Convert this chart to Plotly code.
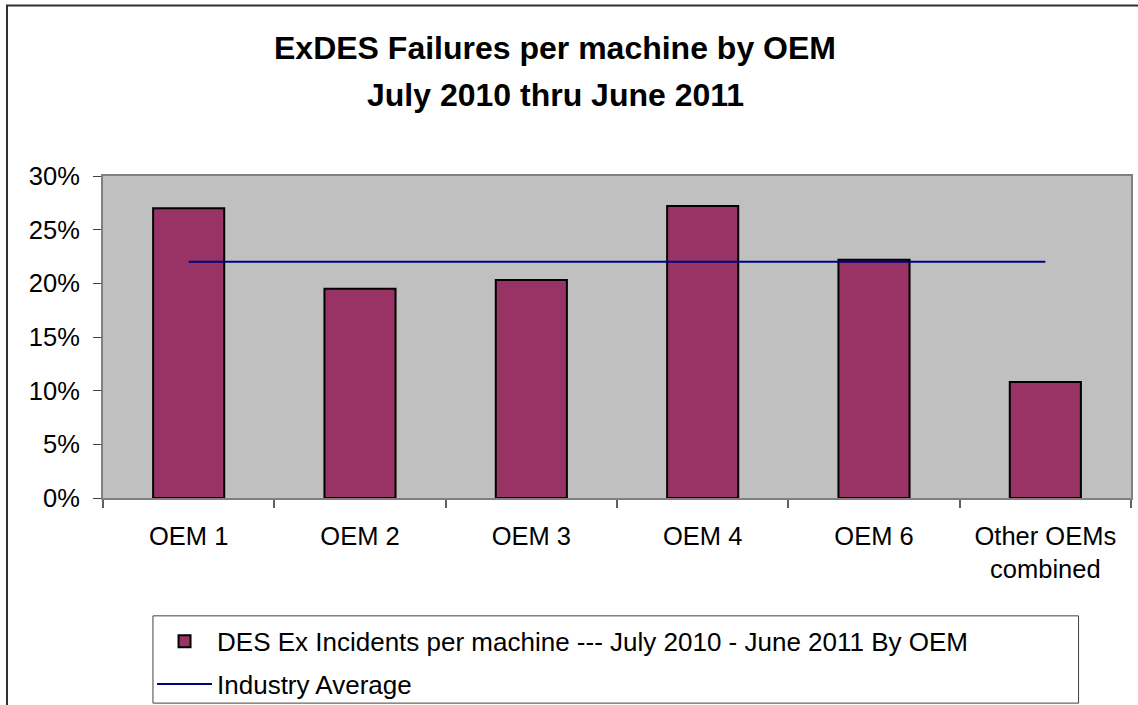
import plotly.graph_objects as go

# data
oems = ['OEM 1', 'OEM 2', 'OEM 3', 'OEM 4', 'OEM 6', 'Other OEMs<br>combined']
incidents = [0.270, 0.195, 0.203, 0.272, 0.222, 0.108]
industry_average = [0.22, 0.22, 0.22, 0.22, 0.22, 0.22]
y_ticks = [0, 0.05, 0.10, 0.15, 0.20, 0.25, 0.30]

bar_name = 'DES Ex Incidents per machine --- July 2010 - June 2011 By OEM'
line_name = 'Industry Average'

FONT = 'Liberation Sans, Arial, sans-serif'

fig = go.Figure()

fig.add_trace(go.Bar(
    name=bar_name, x=oems, y=incidents,
    marker_color='#993366',
    marker_line_color='#000000',
    marker_line_width=2,
    legendgroup='a',
))

fig.add_trace(go.Scatter(
    name=line_name, x=oems, y=industry_average,
    mode='lines',
    line=dict(color='#000080', width=2),
    legendgroup='b',
))

fig.update_layout(
    width=1138, height=705,
    margin=dict(l=103, r=7, t=176, b=207, autoexpand=False),
    paper_bgcolor='white',
    plot_bgcolor='#C0C0C0',
    bargap=0.585,
    font=dict(family=FONT, size=25.5, color='black'),
    showlegend=True,
    legend=dict(
        x=0.0477, xanchor='left',
        y=-0.372, yanchor='top',
        bgcolor='rgba(0,0,0,0)',
        borderwidth=0,
        traceorder='grouped',
        tracegroupgap=6,
        itemwidth=55,
        font=dict(size=26),
    ),
)

# title, two lines like the original
fig.add_annotation(text='<b>ExDES Failures per machine by OEM</b>', xref='paper', yref='paper',
                   x=0.44, y=1.397, xanchor='center', yanchor='middle', showarrow=False,
                   font=dict(size=32))
fig.add_annotation(text='<b>July 2010 thru June 2011</b>', xref='paper', yref='paper',
                   x=0.44, y=1.252, xanchor='center', yanchor='middle', showarrow=False,
                   font=dict(size=32))

fig.update_yaxes(
    range=[0, 0.30], tickvals=y_ticks, tickformat='.0%',
    showgrid=False, zeroline=False,
    showline=True, linecolor='#808080', linewidth=2, mirror=True,
    ticks='outside', ticklen=8, tickcolor='#404040', tickwidth=1,
    ticklabelstandoff=8, automargin=False,
)
fig.update_xaxes(
    showgrid=False,
    showline=True, linecolor='#808080', linewidth=2, mirror=True,
    ticks='outside', ticklen=8, tickcolor='#606060', tickwidth=2,
    tickson='boundaries', tickangle=0,
    ticklabelstandoff=14, automargin=False,
)

# legend box and outer chart border
fig.add_shape(type='rect', xref='paper', yref='paper',
              x0=0.0486, x1=0.949, y0=-0.637, y1=-0.366,
              line=dict(color='#404040', width=1), fillcolor='rgba(0,0,0,0)')
fig.add_shape(type='rect', xref='paper', yref='paper',
              x0=-0.0934, x1=1.02, y0=-0.70, y1=1.5295,
              line=dict(color='#303030', width=2), fillcolor='rgba(0,0,0,0)')

# page body has an 8px margin by default, drop it so the figure sits at 0,0
fig.write_html('out.html', config={'displayModeBar': False},
               post_script="document.body.style.margin='0px';")
